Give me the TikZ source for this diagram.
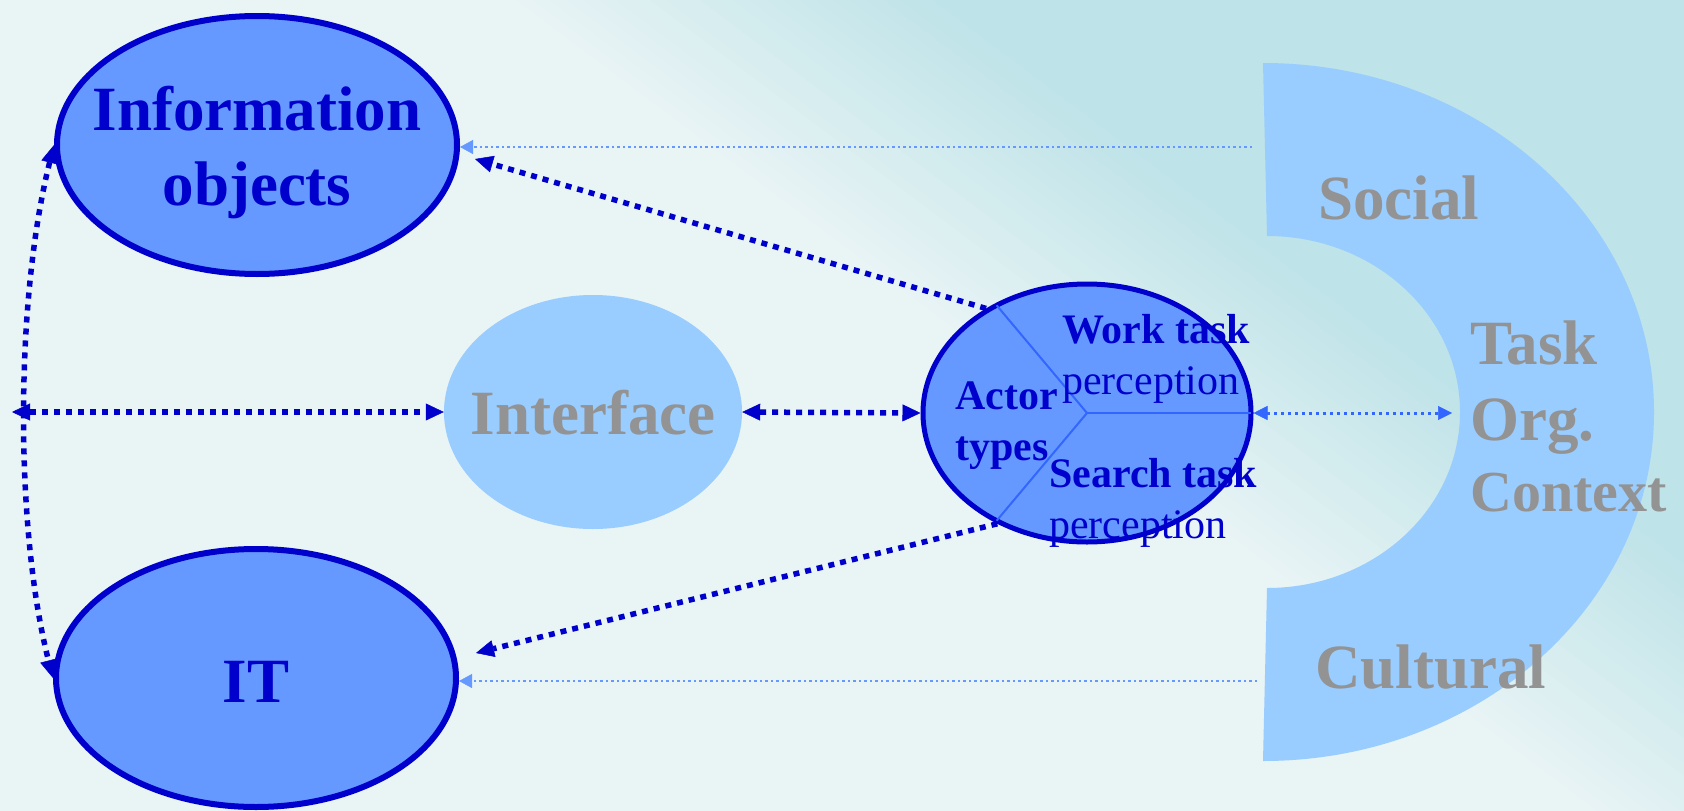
\documentclass[tikz,border=0pt]{standalone}
\usepackage{fontspec}
\setmainfont{Liberation Serif}
\usetikzlibrary{arrows.meta,shapes.geometric,calc}
\definecolor{dblue}{HTML}{0000CC}
\definecolor{fillblue}{HTML}{6699FF}
\definecolor{lightfill}{HTML}{99CCFF}
\definecolor{tgray}{HTML}{939393}
\definecolor{lineblue}{HTML}{3366FF}
\definecolor{bgL}{HTML}{E9F4F5}
\definecolor{bgR}{HTML}{BEE3E8}
\tikzset{
  bigtxt/.style={font=\fontsize{63}{75}\selectfont\bfseries, inner sep=0pt},
  smalltxt/.style={font=\fontsize{42}{51}\selectfont, text=dblue, inner sep=0pt, anchor=base west},
  ovalnode/.style={ellipse, inner sep=0pt, minimum width=400pt, minimum height=258pt, fill=fillblue, draw=dblue, line width=6pt},
  thickdots/.style={draw=dblue, line width=5.5pt, dash pattern=on 6pt off 6pt, >={Triangle[length=18pt,width=17pt,line width=0.5pt]}},
  lightdots/.style={draw=fillblue, line width=2.5pt, dash pattern=on 2.5pt off 3pt, >={Triangle[length=13pt,width=14pt,line width=0.5pt]}},
  taskdots/.style={draw=lineblue, line width=3pt, dash pattern=on 3pt off 4pt, >={Triangle[length=14pt,width=14pt,line width=0.5pt]}},
}
\begin{document}
\begin{tikzpicture}[x=1pt,y=-1pt]
\useasboundingbox (0,0) rectangle (1684,811);
% background
\begin{scope}
  \clip (0,0) rectangle (1684,811);
  \fill[bgL] (0,0) rectangle (1684,811);
  \foreach \s in {300,310,...,560}{
    \pgfmathsetmacro{\t}{(\s-300)/2.6}
    \colorlet{bandc}{bgR!\t!bgL}
    \fill[bandc] ({0.6*\s-2400},{-0.8*\s-1800}) -- ({0.6*\s+2400},{-0.8*\s+1800})
      -- ({0.6*\s+4200},{-0.8*\s-600}) -- ({0.6*\s-600},{-0.8*\s-4200}) -- cycle;
  }
\end{scope}
% context C shape
\fill[lightfill] (1263,63) arc[start angle=-90,end angle=90,x radius=391,y radius=349]
  -- (1267,588) arc[start angle=90,end angle=-90,x radius=193,y radius=176] -- cycle;
% nodes
\node[ovalnode] (info) at (257,145) {};
\node[ovalnode] (it) at (256,678) {};
\node[ellipse, inner sep=0pt, minimum width=298pt, minimum height=234pt, fill=lightfill] (iface) at (593,412) {};
\node[ellipse, inner sep=0pt, minimum width=328pt, minimum height=258pt, fill=fillblue, draw=dblue, line width=5pt] (actor) at (1087,413) {};
% actor partitions
\draw[lineblue, line width=2pt, shorten >=2.5pt] (actor.center) -- (actor.east);
\draw[lineblue, line width=2pt, shorten >=2.5pt] (actor.center) -- (actor.130);
\draw[lineblue, line width=2pt, shorten >=2.5pt] (actor.center) -- (actor.230);
% connectors
\coordinate (lefttip) at (12,412);
\coordinate (cup) at (1252,147);
\coordinate (clo) at (1257,681);
\coordinate (ctxin) at (1452,413);
\draw[thickdots,<->] (info.west) .. controls (15,300) and (15,530) .. (it.west);
\draw[thickdots,<->] (lefttip) -- (iface.west);
\draw[thickdots,<->] (iface.east) -- (actor.west);
\draw[thickdots,->] (actor.134) -- ($(info.east)+(15,14)$);
\draw[thickdots,->] (actor.231) -- ($(it.east)+(17,-25)$);
\draw[lightdots,->] (cup) -- (cup -| info.east);
\draw[lightdots,->] (clo) -- (clo -| it.east);
\draw[taskdots,<->] (actor.east) -- (ctxin);
% texts
\node[bigtxt, text=dblue, anchor=base] (tinfoA) at (257,130) {Information};
\node[bigtxt, text=dblue, anchor=base] (tinfoB) at (257,205) {objects};
\node[bigtxt, text=dblue, anchor=base] (tit) at (256,702) {IT};
\node[bigtxt, text=tgray, anchor=base] (tiface) at (593,434) {Interface};
\node[bigtxt, text=tgray, anchor=base west] (tsocial) at (1318,219) {Social};
\node[bigtxt, text=tgray, anchor=base west] (ttask) at (1470,364) {Task};
\node[bigtxt, text=tgray, anchor=base west] (torg) at (1470,440) {Org.};
\node[bigtxt, text=tgray, anchor=base west, font=\fontsize{58}{70}\selectfont\bfseries] (tcontext) at (1470,511) {Context};
\node[bigtxt, text=tgray, anchor=base west] (tcult) at (1315,688) {Cultural};
\node[smalltxt, font=\fontsize{42}{51}\selectfont\bfseries] (twork) at (1062,343) {Work task};
\node[smalltxt] (tworkp) at (1062,394) {perception};
\node[smalltxt, font=\fontsize{42}{51}\selectfont\bfseries] (tactor) at (955,409) {Actor};
\node[smalltxt, font=\fontsize{42}{51}\selectfont\bfseries] (ttypes) at (955,460) {types};
\node[smalltxt, font=\fontsize{42}{51}\selectfont\bfseries] (tsearch) at (1049,487) {Search task};
\node[smalltxt] (tsearchp) at (1049,538) {perception};
\end{tikzpicture}
\end{document}
